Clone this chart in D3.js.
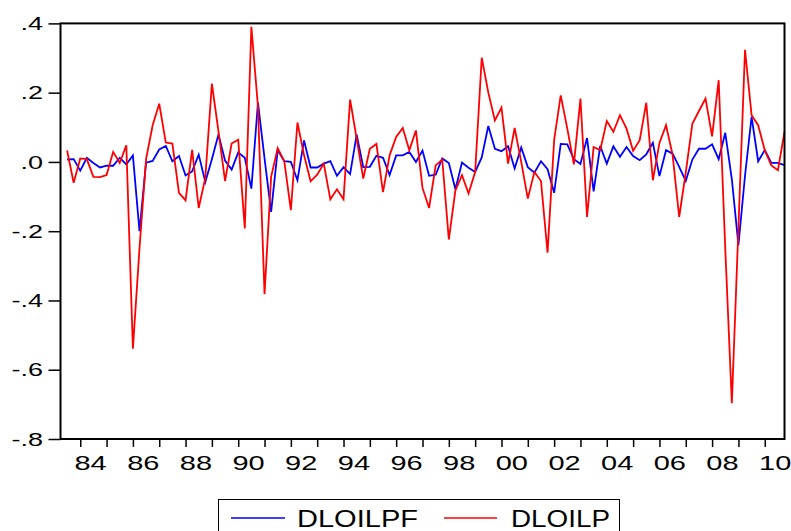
<!DOCTYPE html>
<html>
<head>
<meta charset="utf-8">
<script src="https://cdn.jsdelivr.net/npm/d3@7"></script>
<style>
  body { margin: 0; background: #fff; }
  svg { display: block; font-family: "Liberation Sans", Arial, sans-serif; }
</style>
</head>
<body>
<svg id="chart"></svg>
<script>
// quarterly data, first obs 1983Q3
const firstYear = 1983;
const firstQuarter = 3;

const dloilpf = [
  0.007, 0.008, -0.025, 0.012, -0.003, -0.016, -0.011, -0.011, 0.012, -0.007,
  0.019, -0.200, -0.002, 0.003, 0.036, 0.046, 0.002, 0.017, -0.039, -0.027,
  0.021, -0.058, 0.008, 0.079, 0.004, -0.022, 0.027, 0.012, -0.077, 0.171,
  0.010, -0.144, 0.034, 0.002, 0.000, -0.053, 0.062, -0.016, -0.016, -0.005,
  0.002, -0.040, -0.015, -0.035, 0.079, -0.015, -0.014, 0.018, 0.012, -0.038,
  0.019, 0.019, 0.029, 0.000, 0.033, -0.040, -0.037, 0.010, -0.003, -0.079,
  -0.002, -0.017, -0.029, 0.013, 0.104, 0.038, 0.031, 0.045, -0.019, 0.042,
  -0.015, -0.031, 0.002, -0.021, -0.089, 0.052, 0.051, 0.008, -0.006, 0.069,
  -0.085, 0.046, -0.005, 0.045, 0.015, 0.043, 0.017, 0.005, 0.022, 0.055,
  -0.041, 0.034, 0.024, -0.014, -0.055, 0.007, 0.038, 0.038, 0.051, 0.008,
  0.084, -0.050, -0.240, -0.040, 0.130, 0.002, 0.034, -0.003, -0.003, -0.009
];

const dloilp = [
  0.033, -0.060, 0.010, 0.008, -0.043, -0.044, -0.038, 0.029, -0.003, 0.048,
  -0.539, -0.250, 0.008, 0.106, 0.168, 0.056, 0.053, -0.089, -0.111, 0.035,
  -0.133, -0.046, 0.226, 0.088, -0.055, 0.053, 0.064, -0.192, 0.390, 0.160,
  -0.382, -0.043, 0.040, 0.002, -0.139, 0.114, 0.020, -0.056, -0.037, -0.005,
  -0.108, -0.079, -0.108, 0.180, 0.067, -0.048, 0.038, 0.052, -0.087, 0.019,
  0.072, 0.098, 0.034, 0.091, -0.075, -0.133, -0.010, 0.007, -0.224, -0.082,
  -0.038, -0.091, -0.029, 0.301, 0.200, 0.120, 0.157, -0.005, 0.098, 0.000,
  -0.106, -0.029, -0.055, -0.262, 0.063, 0.192, 0.096, -0.007, 0.183, -0.159,
  0.043, 0.034, 0.118, 0.087, 0.135, 0.096, 0.032, 0.063, 0.171, -0.053,
  0.055, 0.106, 0.020, -0.159, -0.030, 0.110, 0.147, 0.183, 0.074, 0.236,
  -0.250, -0.697, -0.190, 0.324, 0.135, 0.106, 0.034, -0.010, -0.024, 0.087
];

const seriesNames = ["DLOILPF", "DLOILP"];
const seriesColors = ["#0000ff", "#ff0000"];

const yTicks = [0.4, 0.2, 0, -0.2, -0.4, -0.6, -0.8];
const yTickLabels = [".4", ".2", ".0", "-.2", "-.4", "-.6", "-.8"];

const xLabelYears = [1984, 1986, 1988, 1990, 1992, 1994, 1996, 1998, 2000, 2002, 2004, 2006, 2008, 2010];
const xTickLabels = ["84", "86", "88", "90", "92", "94", "96", "98", "00", "02", "04", "06", "08", "10"];

// period of each observation
const periods = dloilp.map((d, i) => {
  const q = firstQuarter - 1 + i;
  return { year: firstYear + Math.floor(q / 4), quarter: (q % 4) + 1 };
});

const width = 791, height = 531;
const plotLeft = 60.5, plotRight = 784.5, plotTop = 23.4, plotBottom = 439;

const svg = d3.select("#chart")
  .attr("width", width)
  .attr("height", height);

const x = d3.scaleLinear()
  .domain([-1, periods.length - 1])
  .range([plotLeft, plotRight]);

const y = d3.scaleLinear()
  .domain([-0.8, 0.4])
  .range([plotBottom, plotTop]);

// y axis
const yStretch = 1.42;
svg.append("g")
  .attr("transform", `translate(${plotLeft},0)`)
  .call(d3.axisLeft(y).tickValues(yTicks).tickSize(12).tickFormat((d, i) => yTickLabels[i]))
  .call(g => g.select(".domain").remove())
  .call(g => g.selectAll(".tick line").attr("stroke", "#000").attr("stroke-width", 1.5))
  .call(g => g.selectAll(".tick text")
    .attr("fill", "#000")
    .style("font-size", "19px")
    .attr("x", -17.5 / yStretch)
    .attr("transform", `scale(${yStretch},1)`));

// x axis: tick at the first quarter of every year
const yearStarts = periods.map((p, i) => p.quarter === 1 ? i : null).filter(i => i !== null);
svg.append("g")
  .attr("transform", `translate(0,${plotBottom})`)
  .call(d3.axisBottom(x).tickValues(yearStarts).tickSize(8).tickFormat(""))
  .call(g => g.select(".domain").remove())
  .call(g => g.selectAll(".tick line").attr("stroke", "#000").attr("stroke-width", 1.5));

// labels centred on the middle of the year
const xStretch = 1.45;
const labelPos = xLabelYears.map(yr => periods.findIndex(p => p.year === yr && p.quarter === 1) + 1.5);
svg.append("g")
  .attr("transform", `translate(0,${plotBottom})`)
  .call(d3.axisBottom(x).tickValues(labelPos).tickSize(0).tickPadding(17).tickFormat((d, i) => xTickLabels[i]))
  .call(g => g.select(".domain").remove())
  .call(g => g.selectAll(".tick text")
    .attr("fill", "#000")
    .style("font-size", "20px")
    .attr("transform", `scale(${xStretch},1)`));

// series
const line = d3.line()
  .x((d, i) => x(i))
  .y(d => y(d));

[dloilpf, dloilp].forEach((s, k) => {
  svg.append("path")
    .datum(s)
    .attr("fill", "none")
    .attr("stroke", seriesColors[k])
    .attr("stroke-width", 1.8)
    .attr("stroke-linejoin", "miter")
    .attr("d", line);
});

// frame
svg.append("rect")
  .attr("x", plotLeft)
  .attr("y", plotTop)
  .attr("width", plotRight - plotLeft)
  .attr("height", plotBottom - plotTop)
  .attr("fill", "none")
  .attr("stroke", "#000")
  .attr("stroke-width", 2);

// legend
const legend = svg.append("g");
legend.append("rect")
  .attr("x", 218.5).attr("y", 499.5)
  .attr("width", 401).attr("height", 45)
  .attr("fill", "none").attr("stroke", "#000").attr("stroke-width", 1);

const legendItems = [
  { x0: 231, x1: 285, tx: 297, tw: 121 },
  { x0: 444, x1: 497, tx: 511, tw: 99 }
];
legendItems.forEach((it, k) => {
  legend.append("line")
    .attr("x1", it.x0).attr("x2", it.x1)
    .attr("y1", 518).attr("y2", 518)
    .attr("stroke", seriesColors[k]).attr("stroke-width", 1.5);
  legend.append("text")
    .attr("x", it.tx).attr("y", 527)
    .attr("textLength", it.tw)
    .attr("lengthAdjust", "spacingAndGlyphs")
    .style("font-size", "23px")
    .attr("fill", "#000")
    .text(seriesNames[k]);
});
</script>
</body>
</html>
